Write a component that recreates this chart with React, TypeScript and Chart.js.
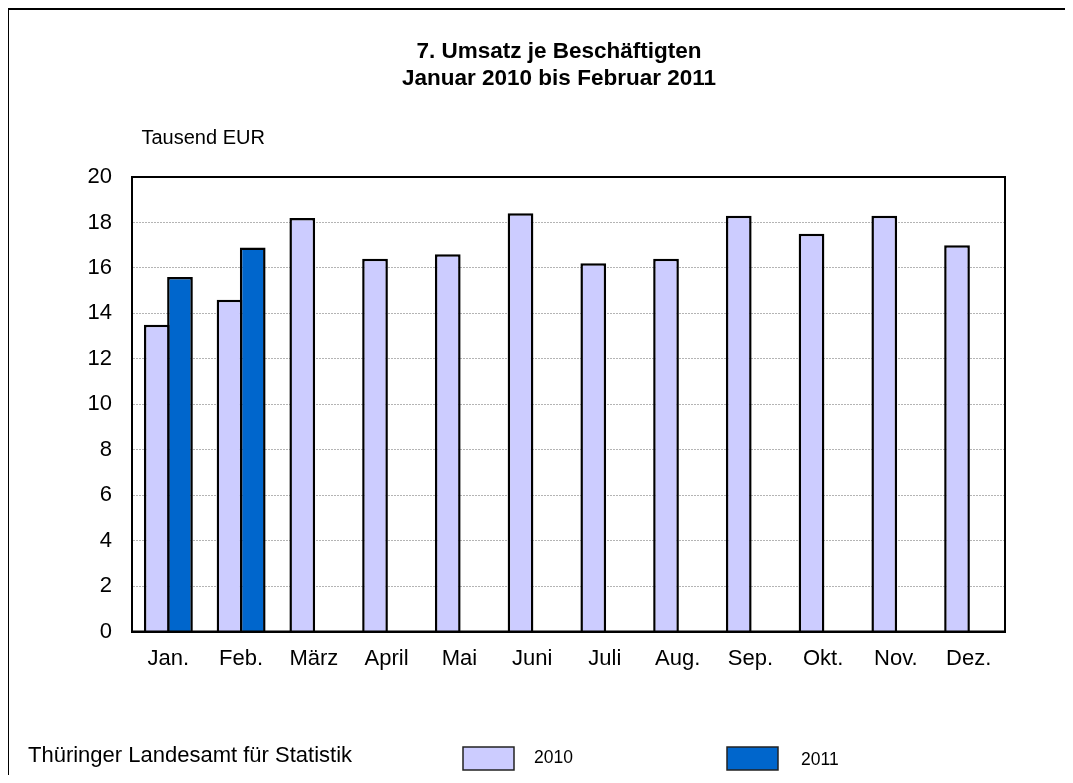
import React, { useEffect, useRef } from "react";
import { Chart, registerables } from "chart.js";

Chart.register(...registerables);

const categories = ["Jan.", "Feb.", "März", "April", "Mai", "Juni", "Juli", "Aug.", "Sep.", "Okt.", "Nov.", "Dez."];
const seriesLabels = ["2010", "2011"];
const values2010 = [13.5, 14.6, 18.2, 16.4, 16.6, 18.4, 16.2, 16.4, 18.3, 17.5, 18.3, 17.0];
const values2011 = [15.6, 16.9, null, null, null, null, null, null, null, null, null, null];
const yMin = 0;
const yMax = 20;
const yStep = 2;
const titleLines = ["7. Umsatz je Beschäftigten", "Januar 2010 bis Februar 2011"];
const unitLabel = "Tausend EUR";
const sourceLabel = "Thüringer Landesamt für Statistik";

const colors = ["#CCCCFF", "#0066CC"];
const FONT = '"Liberation Sans", Arial, sans-serif';

const decorPlugin = {
  id: "decor",
  afterDatasetsDraw(chart: any) {
    const { ctx, chartArea } = chart;
    ctx.save();
    ctx.strokeStyle = "#000";
    ctx.lineWidth = 2;
    ctx.strokeRect(chartArea.left, chartArea.top, chartArea.right - chartArea.left, chartArea.bottom - chartArea.top);
    ctx.restore();
  },
  afterDraw(chart: any) {
    const { ctx } = chart;
    ctx.save();
    // outer frame (right/bottom lie outside the picture)
    ctx.strokeStyle = "#000";
    ctx.lineWidth = 2;
    ctx.beginPath();
    ctx.moveTo(0, chart.height + 10);
    ctx.lineTo(0, 1);
    ctx.lineTo(chart.width + 10, 1);
    ctx.stroke();

    ctx.fillStyle = "#000";
    ctx.textBaseline = "middle";
    ctx.textAlign = "center";
    ctx.font = `bold 22.5px ${FONT}`;
    ctx.fillText(titleLines[0], 551, 43.5);
    ctx.fillText(titleLines[1], 551, 70.5);

    ctx.textAlign = "left";
    ctx.font = `20px ${FONT}`;
    ctx.fillText(unitLabel, 133.5, 130);

    ctx.font = `22px ${FONT}`;
    ctx.fillText(sourceLabel, 20, 747.5);

    // legend
    const items = [
      { box: 455, text: 526, y: 750.5 },
      { box: 719, text: 793, y: 752.5 },
    ];
    ctx.font = `17.5px ${FONT}`;
    items.forEach((it, i) => {
      ctx.fillStyle = colors[i];
      ctx.fillRect(it.box, 739, 51, 23);
      ctx.strokeStyle = "#222";
      ctx.lineWidth = 1.5;
      ctx.strokeRect(it.box, 739, 51, 23);
      ctx.fillStyle = "#000";
      ctx.fillText(seriesLabels[i], it.text, it.y);
    });
    ctx.restore();
  },
};

export default function App() {
  const ref = useRef<HTMLCanvasElement | null>(null);
  useEffect(() => {
    if (!ref.current) return;
    const chart = new Chart(ref.current, {
      type: "bar",
      data: {
        labels: categories,
        datasets: [
          {
            label: seriesLabels[0],
            data: values2010,
            backgroundColor: colors[0],
            borderColor: "#000",
            borderWidth: 2.5,
            barPercentage: 1.1075,
            categoryPercentage: 0.638,
          },
          {
            label: seriesLabels[1],
            data: values2011 as any,
            backgroundColor: colors[1],
            borderColor: "#000",
            borderWidth: 2.5,
            barPercentage: 1.1075,
            categoryPercentage: 0.638,
          },
        ],
      },
      options: {
        animation: false,
        responsive: true,
        maintainAspectRatio: false,
        layout: { padding: { left: 0, right: 60, top: 169, bottom: 83.5 } },
        plugins: {
          legend: { display: false },
          title: { display: false },
          tooltip: { enabled: false },
        },
        scales: {
          x: {
            grid: { display: false, drawTicks: false },
            border: { display: true, color: "#000", width: 2 },
            ticks: { color: "#000", padding: 14, font: { family: FONT, size: 22 }, maxRotation: 0, autoSkip: false },
            afterFit: (s: any) => {
              s.height = 60;
            },
          },
          y: {
            min: yMin,
            max: yMax,
            grid: { color: "#b4b4b4", lineWidth: 1, drawTicks: false },
            border: { display: true, color: "#000", width: 2, dash: [2, 1] },
            ticks: { stepSize: yStep, color: "#000", padding: 20, font: { family: FONT, size: 22 } },
            afterFit: (s: any) => {
              s.width = 124;
            },
          },
        },
      },
      plugins: [decorPlugin],
    });
    return () => chart.destroy();
  }, []);
  return (
    <div style={{ position: "relative", width: 1057, height: 767 }}>
      <canvas ref={ref} />
    </div>
  );
}
